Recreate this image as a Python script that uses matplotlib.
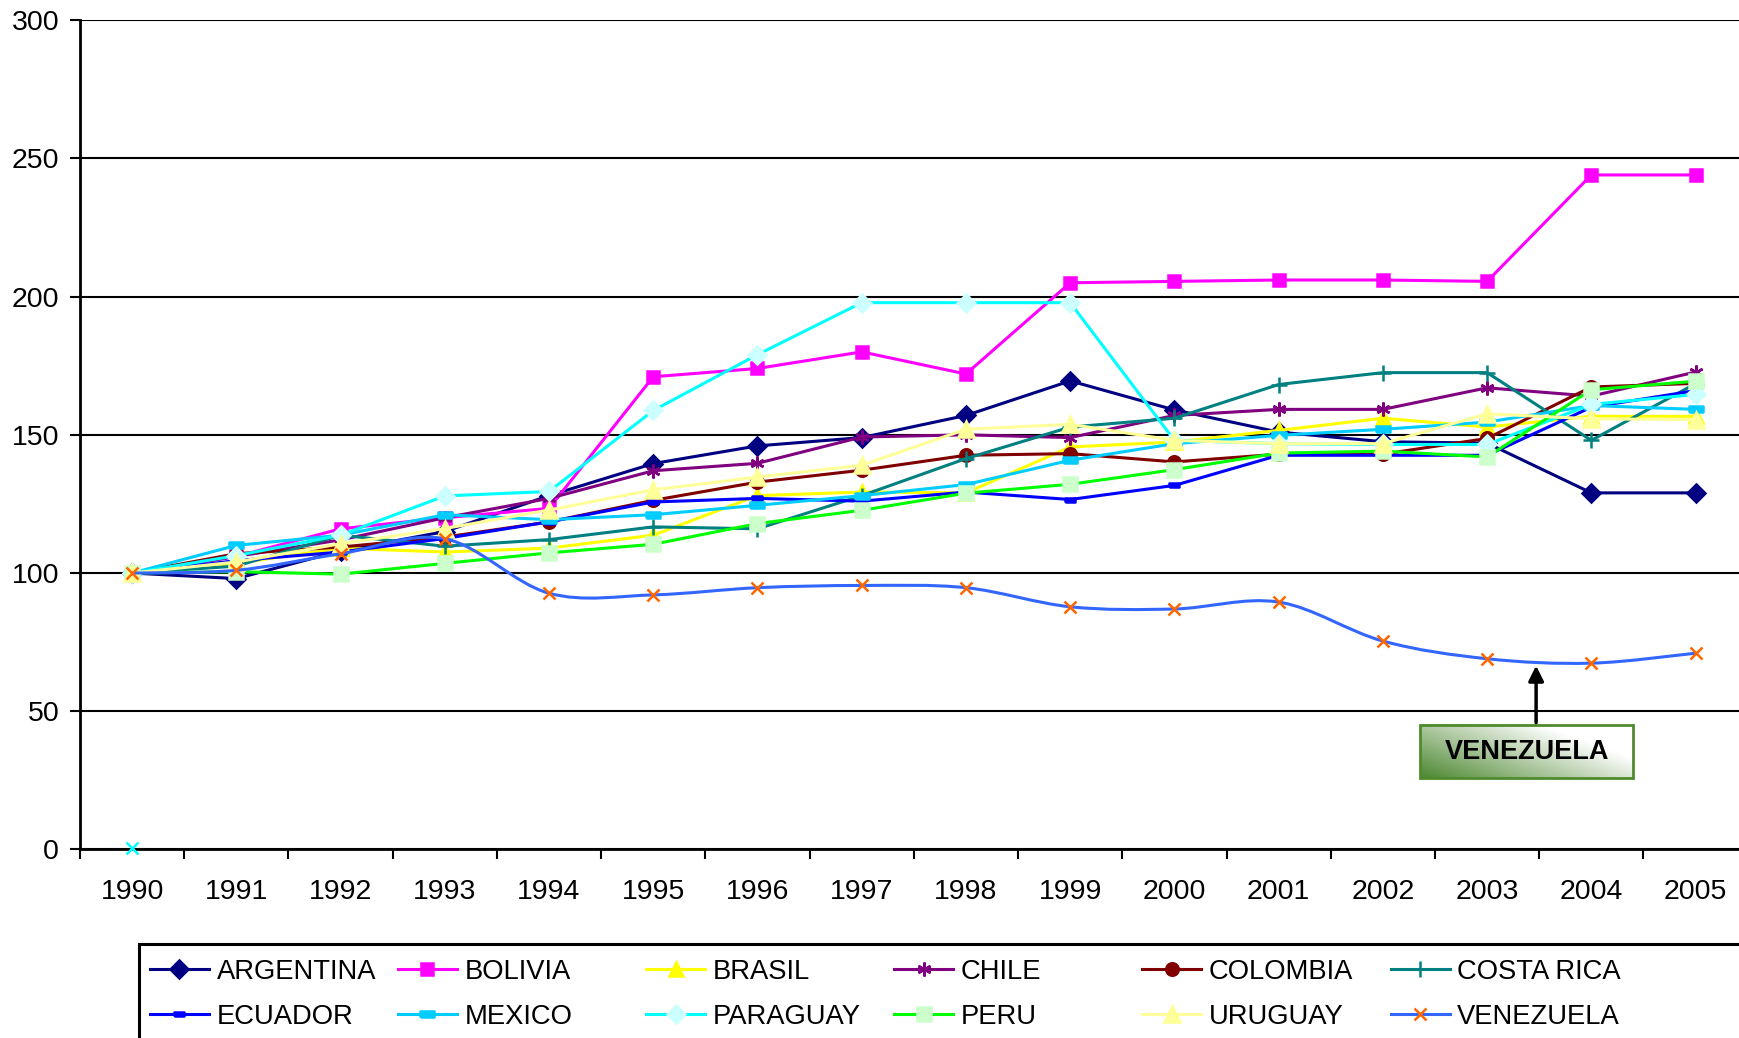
import numpy as np
import matplotlib
matplotlib.use("Agg")
import matplotlib.pyplot as plt
from matplotlib.lines import Line2D
from matplotlib.path import Path
from matplotlib.patches import PathPatch, Rectangle

plt.rcParams["font.family"] = ["Liberation Sans", "DejaVu Sans"]

# ---------------- data ----------------
years = list(range(1990, 2006))

argentina = [100, 98, 108, 115, 128, 139.6, 146, 149, 157, 169.5, 159, 151, 147.5, 147, 129, 129]
bolivia = [100, 106, 116, 120, 123.4, 171, 174, 180, 172, 205, 205.5, 206, 206, 205.5, 244, 244]
brasil = [100, 103.5, 109, 107.6, 109, 113.7, 128, 129.3, 129, 145.6, 147.4, 151.6, 156, 152.8, 156.7, 156.7]
chile = [100, 106, 112, 120, 127, 137, 139.7, 149.2, 150, 149, 157, 159.2, 159.2, 167, 164, 172.7]
colombia = [100, 107, 109.4, 113, 118.5, 126.3, 132.9, 137.2, 142.6, 143.2, 140.2, 143, 143, 148.7, 167.3, 168.6]
costa_rica = [100, 102.5, 113.7, 109.7, 112.1, 116.7, 116, 128, 141.4, 152.8, 156, 168.2, 172.5, 172.5, 148, 168.5]
ecuador = [100, 104.5, 107.6, 112.5, 118.5, 125.7, 127, 126, 129.3, 126.6, 131.7, 142.6, 142.6, 142.6, 160, 166]
mexico = [100, 110, 113.7, 121.1, 119.3, 121.1, 124.5, 128, 132, 140.8, 146.8, 149.8, 152, 154.6, 160.6, 159.2]
paraguay = [100, 106.3, 113.7, 127.9, 129.5, 158.8, 179, 197.8, 197.8, 197.8, 148, 146.8, 146.5, 146.5, 161, 164.6]
peru = [100, 100.5, 99.6, 103.5, 107.3, 110.4, 117.9, 122.7, 128.9, 132.1, 137.4, 143.4, 144.1, 142, 166.3, 169.4]
uruguay = [100, 104, 110.6, 116.1, 122.8, 130.1, 134.7, 139, 152, 153.8, 148, 146.8, 146.8, 157.6, 155.8, 155.5]
venezuela = [100, 101, 107, 112.4, 92.7, 92.1, 94.7, 95.5, 94.7, 87.8, 87, 89.5, 75.4, 69, 67.4, 71]

# lone marker sitting on the x axis at 1990
stray_year = [1990]
stray_value = [0.5]

# annotation
note_text = "VENEZUELA"
note_x = 2003.47
note_tip = 67.5

# ---------------- styles ----------------
bar_small = [(-1, -0.5), (1, -0.5), (1, 0.5), (-1, 0.5), (-1, -0.5)]

series = [
    ("ARGENTINA", argentina, "#000080", "D", "#000080", 9),
    ("BOLIVIA", bolivia, "#FF00FF", "s", "#FF00FF", 9),
    ("BRASIL", brasil, "#FFFF00", "^", "#FFFF00", 10),
    ("CHILE", chile, "#800080", (6, 2, 0), "#800080", 10),
    ("COLOMBIA", colombia, "#800000", "o", "#800000", 9),
    ("COSTA RICA", costa_rica, "#008080", "+", "#008080", 11),
    ("ECUADOR", ecuador, "#0000FF", bar_small, "#0000FF", 7),
    ("MEXICO", mexico, "#00CCFF", bar_small, "#00CCFF", 10),
    ("PARAGUAY", paraguay, "#00FFFF", "D", "#CCFFFF", 9),
    ("PERU", peru, "#00FF00", "s", "#CCFFCC", 10),
    ("URUGUAY", uruguay, "#FFFF99", "^", "#FFFF99", 11),
]
VEN_LINE = "#3366FF"
VEN_MARK = "#FF6600"

fig = plt.figure(figsize=(17.39, 10.38), dpi=100)
ax = fig.add_axes([0.046, 0.1816, 0.959, 0.799])

handles = {}
for i, (name, vals, lc, mk, mc, ms) in enumerate(series):
    ln, = ax.plot(years, vals, color=lc, lw=2.2, marker=mk, markersize=ms,
                  markerfacecolor=mc, markeredgecolor=mc, markeredgewidth=1.8,
                  zorder=3 + i * 0.01, clip_on=False)
    handles[name] = ln

# Venezuela: smoothed line (Catmull-Rom -> Bezier) + markers
pts = np.column_stack([years, venezuela]).astype(float)
ext = np.vstack([pts[0], pts, pts[-1]])
verts = [tuple(pts[0])]
codes = [Path.MOVETO]
for k in range(len(pts) - 1):
    p0, p1, p2, p3 = ext[k], ext[k + 1], ext[k + 2], ext[k + 3]
    c1 = p1 + (p2 - p0) / 6.0
    c2 = p2 - (p3 - p1) / 6.0
    verts += [tuple(c1), tuple(c2), tuple(p2)]
    codes += [Path.CURVE4] * 3
ax.add_patch(PathPatch(Path(verts, codes), fill=False, edgecolor=VEN_LINE,
                       lw=2.2, zorder=3.5))
ax.plot(years, venezuela, ls="none", marker="x", markersize=8,
        markeredgecolor=VEN_MARK, markeredgewidth=1.8, zorder=3.6)
handles["VENEZUELA"] = Line2D([], [], color=VEN_LINE, lw=2.2, marker="x",
                              markersize=8, markeredgecolor=VEN_MARK,
                              markeredgewidth=1.8)

ax.plot(stray_year, stray_value, ls="none", marker="x", markersize=8,
        markeredgecolor="#00FFFF", markeredgewidth=1.8, zorder=4, clip_on=False)

# ---------------- axes ----------------
ax.set_xlim(1989.5, 2005.5)
ax.set_ylim(0, 300)
ax.set_yticks(np.arange(0, 301, 50))
ax.set_xticks(years)
ax.set_xticklabels([str(y) for y in years])
ax.set_xticks(np.arange(1989.5, 2005.6, 1), minor=True)
ax.tick_params(axis="x", which="major", length=0, labelsize=20.5, pad=21)
ax.tick_params(axis="x", which="minor", length=7, width=1.5, direction="out")
ax.tick_params(axis="y", length=7, width=1.5, direction="out", labelsize=20.5, pad=8)
ax.grid(axis="y", color="black", lw=1.5)
ax.set_axisbelow(True)
for side in ("top", "right"):
    ax.spines[side].set_visible(False)
for side in ("left", "bottom"):
    ax.spines[side].set_linewidth(2)
    ax.spines[side].set_color("black")

# ---------------- VENEZUELA callout ----------------
bx0, bx1, by0, by1 = 2002.36, 2004.40, 25.7, 44.9
gx, gy = np.meshgrid(np.linspace(0, 1, 200), np.linspace(0, 1, 60))
t = np.clip((gx * 0.8 + gy * 0.55), 0, 1)[..., None]
dark = np.array([0.30, 0.53, 0.19])
grad = dark * (1 - t) + np.array([1.0, 1.0, 1.0]) * t
ax.imshow(grad, extent=[bx0, bx1, by1, by0], aspect="auto", zorder=6,
          interpolation="bilinear", origin="upper")
ax.add_patch(Rectangle((bx0, by0), bx1 - bx0, by1 - by0, fill=False,
                       edgecolor="#4F8B2D", lw=2, zorder=7))
ax.text((bx0 + bx1) / 2, (by0 + by1) / 2, note_text, ha="center", va="center",
        fontsize=19.5, fontweight="bold", color="black", zorder=8)
ax.annotate("", xy=(note_x, note_tip), xytext=(note_x, by1),
            arrowprops=dict(arrowstyle="-|>,head_length=0.9,head_width=0.45",
                            color="black", lw=2.5), zorder=8)
ax.set_xlim(1989.5, 2005.5)
ax.set_ylim(0, 300)

# ---------------- legend (6 evenly spaced columns) ----------------
rows = [["ARGENTINA", "BOLIVIA", "BRASIL", "CHILE", "COLOMBIA", "COSTA RICA"],
        ["ECUADOR", "MEXICO", "PARAGUAY", "PERU", "URUGUAY", "VENEZUELA"]]
x0, dx = 0.0861, 0.1427
for c in range(6):
    names = [rows[0][c], rows[1][c]]
    fig.legend([handles[n] for n in names], names, loc="upper left",
               bbox_to_anchor=(x0 + c * dx, 0.0762), frameon=False,
               borderpad=0, borderaxespad=0, handlelength=2.16,
               handletextpad=0.28, labelspacing=0.7, fontsize=19.7)
fig.add_artist(Rectangle((0.0797, -0.2), 1.0, 0.2907, transform=fig.transFigure,
                         fill=False, edgecolor="black", lw=2.2))

fig.savefig("out.png", dpi=100)
